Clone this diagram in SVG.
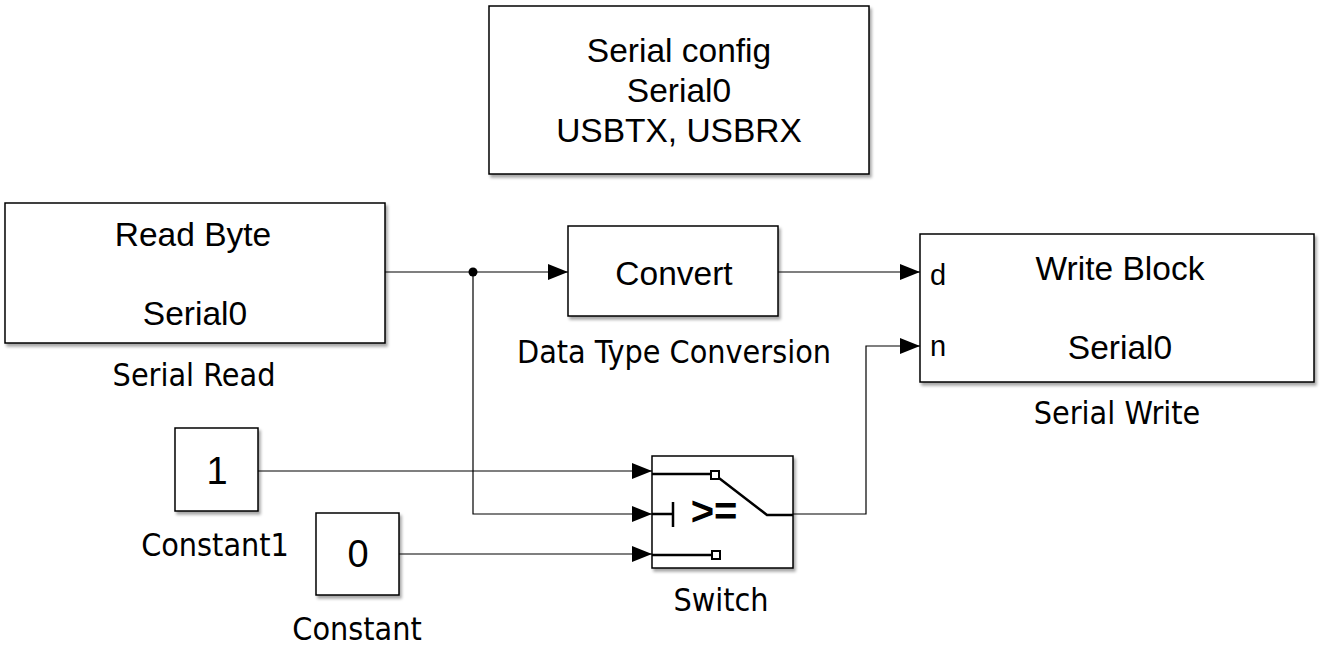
<svg xmlns="http://www.w3.org/2000/svg" width="1327" height="649" viewBox="0 0 1327 649">
<defs>
<filter id="sh" x="-5%" y="-5%" width="115%" height="120%">
<feDropShadow dx="2" dy="3" stdDeviation="1.5" flood-color="#000" flood-opacity="0.35"/>
</filter>
<marker id="arr" viewBox="0 0 20 16" refX="20" refY="8" markerWidth="20" markerHeight="16" markerUnits="userSpaceOnUse" orient="auto">
<path d="M0,0 L20,8 L0,16 Z" fill="#000"/>
</marker>
</defs>
<style>
.blk{fill:#fff;stroke:#000;stroke-width:1.5;filter:url(#sh)}
.t{font-family:"Liberation Sans",Arial,sans-serif;font-size:33.5px;fill:#000;text-anchor:middle}
.lbl{font-family:"DejaVu Sans Condensed","DejaVu Sans","Liberation Sans",sans-serif;font-stretch:condensed;font-size:32px;fill:#000;text-anchor:middle}
.ln{fill:none;stroke:#000;stroke-width:1.2}
.sw{fill:none;stroke:#000;stroke-width:2.5}
</style>
<rect width="1327" height="649" fill="#fff"/>
<g id="serial-config">
<rect class="blk" x="489" y="6" width="380" height="168"/>
<text class="t" x="679" y="62">Serial config</text>
<text class="t" x="679" y="102">Serial0</text>
<text class="t" x="679" y="142">USBTX, USBRX</text>
</g>
<g id="serial-read">
<rect class="blk" x="5" y="203" width="380" height="140"/>
<text class="t" x="193" y="246">Read Byte</text>
<text class="t" x="195" y="325">Serial0</text>
<text class="lbl" x="194" y="386">Serial Read</text>
</g>
<g id="convert">
<rect class="blk" x="568" y="226" width="210" height="90"/>
<text class="t" x="674" y="285">Convert</text>
<text class="lbl" x="674" y="363">Data Type Conversion</text>
</g>
<g id="serial-write">
<rect class="blk" x="920" y="234" width="394" height="148"/>
<text class="t" x="938" y="285" style="font-size:29px">d</text>
<text class="t" x="938" y="356" style="font-size:29px">n</text>
<text class="t" x="1120" y="280">Write Block</text>
<text class="t" x="1120" y="359">Serial0</text>
<text class="lbl" x="1117" y="424">Serial Write</text>
</g>
<g id="constant1">
<rect class="blk" x="175" y="428" width="83" height="83"/>
<text class="t" x="217" y="484" style="font-size:38px">1</text>
<text class="lbl" x="215" y="556">Constant1</text>
</g>
<g id="constant">
<rect class="blk" x="316" y="513" width="83" height="82"/>
<text class="t" x="358" y="567" style="font-size:38px">0</text>
<text class="lbl" x="357" y="640">Constant</text>
</g>
<g id="switch">
<rect class="blk" x="652" y="456" width="141" height="112"/>
<path class="sw" d="M652,474 H711 M715,475 L767,515 H793 M652,514 H673 M673,502 V527 M652,555 H712"/>
<rect x="711" y="471" width="8" height="8" fill="#fff" stroke="#000" stroke-width="2"/>
<rect x="712" y="551" width="8" height="8" fill="#fff" stroke="#000" stroke-width="2"/>
<text x="714" y="525" style="font-family:'Liberation Sans',Arial,sans-serif;font-size:40px;font-weight:bold;text-anchor:middle">&gt;=</text>
<text class="lbl" x="721" y="611">Switch</text>
</g>
<g id="connectors">
<path class="ln" d="M385,272 H568" marker-end="url(#arr)"/>
<path class="ln" d="M473,272 V514 H652" marker-end="url(#arr)"/>
<circle cx="473" cy="272" r="4.5" fill="#000"/>
<path class="ln" d="M778,272 H920" marker-end="url(#arr)"/>
<path class="ln" d="M258,471 H652" marker-end="url(#arr)"/>
<path class="ln" d="M399,554 H652" marker-end="url(#arr)"/>
<path class="ln" d="M793,514 H866 V346 H920" marker-end="url(#arr)"/>
</g>
</svg>
